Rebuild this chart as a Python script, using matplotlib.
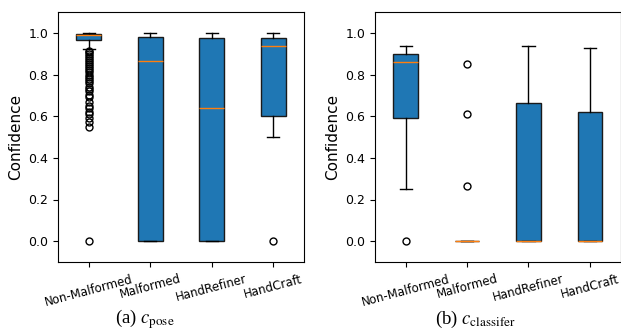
import matplotlib.pyplot as plt

plt.rcParams['mathtext.fontset'] = 'stix'

categories = ['Non-Malformed', 'Malformed', 'HandRefiner', 'HandCraft']

# c_pose panel
pose_med = [0.988, 0.865, 0.64, 0.935]
pose_q1 = [0.966, 0.0, 0.0, 0.60]
pose_q3 = [0.995, 0.98, 0.975, 0.975]
pose_lo = [0.922, 0.0, 0.0, 0.50]
pose_hi = [1.0, 1.0, 1.0, 1.0]
pose_fliers = [
    [0.0, 0.55, 0.57, 0.59, 0.61, 0.62, 0.64, 0.65, 0.67, 0.69, 0.70, 0.72,
     0.73, 0.74, 0.76, 0.77, 0.78, 0.79, 0.80, 0.81, 0.82, 0.83, 0.84, 0.85,
     0.86, 0.87, 0.88, 0.89, 0.90, 0.91, 0.915],
    [],
    [],
    [0.0],
]

# c_classifer panel
cls_med = [0.86, 0.0, 0.0, 0.0]
cls_q1 = [0.59, 0.0, 0.0, 0.0]
cls_q3 = [0.90, 0.0, 0.665, 0.62]
cls_lo = [0.25, 0.0, 0.0, 0.0]
cls_hi = [0.935, 0.0, 0.935, 0.925]
cls_fliers = [[0.0], [0.85, 0.61, 0.265], [], []]


def make_stats(med, q1, q3, lo, hi, fliers):
    return [dict(med=m, q1=a, q3=b, whislo=l, whishi=h, fliers=f)
            for m, a, b, l, h, f in zip(med, q1, q3, lo, hi, fliers)]


fig = plt.figure(figsize=(6.21, 3.33), dpi=100)
ax1 = fig.add_axes([58 / 621, 71 / 333, 246 / 621, 250 / 333])
ax2 = fig.add_axes([375 / 621, 71 / 333, 245.5 / 621, 250 / 333])

panels = [
    (ax1, make_stats(pose_med, pose_q1, pose_q3, pose_lo, pose_hi, pose_fliers)),
    (ax2, make_stats(cls_med, cls_q1, cls_q3, cls_lo, cls_hi, cls_fliers)),
]

for ax, stats in panels:
    ax.bxp(stats, widths=0.4, patch_artist=True,
           boxprops=dict(facecolor='#1f77b4', edgecolor='#1a1a1a', linewidth=1),
           medianprops=dict(color='#ff7f0e', linewidth=1),
           flierprops=dict(marker='o', markerfacecolor='none',
                           markeredgecolor='black', markersize=5))
    ax.set_xlim(0.5, 4.5)
    ax.set_ylim(-0.1, 1.1)
    ax.set_yticks([0.0, 0.2, 0.4, 0.6, 0.8, 1.0])
    ax.set_xticks([1, 2, 3, 4])
    ax.set_xticklabels(categories, rotation=15, fontsize=8.5)
    ax.tick_params(axis='x', pad=4)
    ax.tick_params(axis='y', labelsize=9)
    ax.set_ylabel('Confidence', fontsize=11)

fig.text(145 / 621, 14 / 333, r'(a) $c_{\mathrm{pose}}$', ha='center',
         va='center', fontsize=13.5, family='Liberation Serif')
fig.text(475 / 621, 14 / 333, r'(b) $c_{\mathrm{classifer}}$', ha='center',
         va='center', fontsize=13.5, family='Liberation Serif')

fig.savefig('out.png', dpi=100)
